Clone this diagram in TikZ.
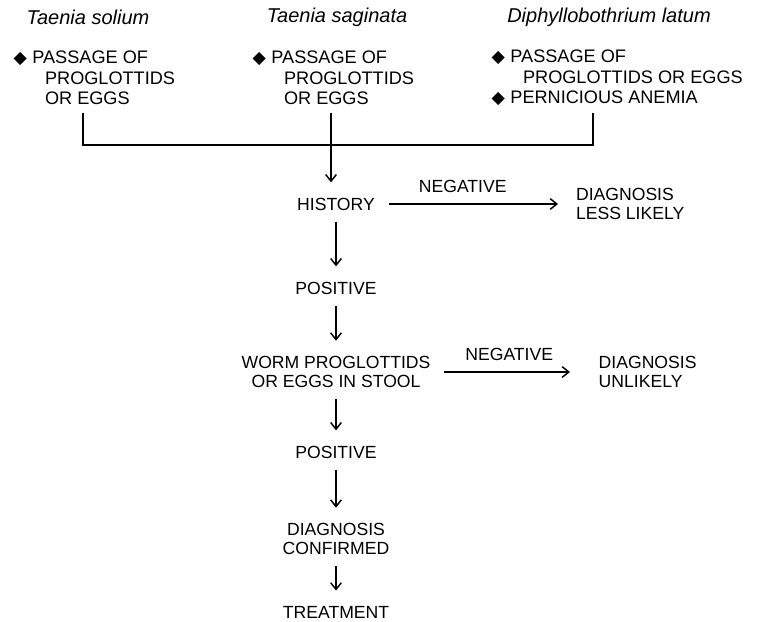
\documentclass[tikz,border=0pt]{standalone}
\usepackage{fontspec}
\setmainfont{Liberation Sans}
\newfontfamily\dingfont{DejaVu Sans}
\usetikzlibrary{arrows.meta,positioning}
\newcommand{\txtsize}{\fontsize{13.2}{14.5}\selectfont}
\newcommand{\lstsize}{\fontsize{13.6}{15.2}\selectfont}
\newcommand{\bul}{\makebox[14pt][l]{\dingfont\fontsize{13}{13}\selectfont ◆}}
\newcommand{\hang}{\hspace*{23.5pt}}
\tikzset{base/.style = {inner xsep=7pt, inner ysep=5pt, font=\txtsize, align=center},
         lst/.style = {inner sep=0pt, font=\lstsize, align=left, anchor=west},
         ttl/.style = {inner sep=0pt, font=\fontsize{15}{16}\selectfont\itshape}}

\begin{document}
\begin{tikzpicture}[x=0.75pt, y=-0.75pt, line width=1.1pt,
  flow/.style = {-{Straight Barb[length=5pt,width=8pt]}, shorten <=3pt, shorten >=6pt}]
\useasboundingbox (0,0) rectangle (766,621);
% the three worms
\node[ttl] (tsol) at (88,17) {Taenia solium};
\node[ttl] (tsag) at (337,17) {Taenia saginata};
\node[ttl] (tdip) at (609,17) {Diphyllobothrium latum};
\node[lst] (lsol) at (13,78) {\bul PASSAGE OF\\\hang PROGLOTTIDS\\\hang OR EGGS};
\node[lst] (lsag) at (252,78) {\bul PASSAGE OF\\\hang PROGLOTTIDS\\\hang OR EGGS};
\node[lst] (ldip) at (491,78) {\bul PASSAGE OF\\\hang PROGLOTTIDS OR EGGS\\\bul PERNICIOUS ANEMIA};
% bracket
\coordinate (dsol) at (83,113);
\coordinate (dsag) at (331,113);
\coordinate (ddip) at (593,113);
\coordinate (jdip) at (593,145);
% flow
\node[base] (hist) at (336,204) {HISTORY};
\node[base] (pos1) at (336,288) {POSITIVE};
\node[base] (worm) at (336,372) {WORM PROGLOTTIDS\\OR EGGS IN STOOL};
\node[base] (pos2) at (336,452) {POSITIVE};
\node[base] (conf) at (336,539) {DIAGNOSIS\\CONFIRMED};
\node[base] (treat) at (336,612) {TREATMENT};
\node[base, anchor=west, align=left] (less) at (566,204) {DIAGNOSIS\\LESS LIKELY};
\node[base, anchor=west, align=left, inner xsep=15pt] (unl) at (578,372) {DIAGNOSIS\\UNLIKELY};
\draw (dsol) |- (jdip) -- (ddip);
\draw[flow, shorten <=0pt] (dsag) -- (dsag |- hist.north);
\draw[flow] (hist) -- node[base, above=3pt, pos=0.43] (neg1) {NEGATIVE} (hist.east -| less.west);
\draw[flow] (worm) -- node[base, above=3pt, pos=0.5] (neg2) {NEGATIVE} (worm.east -| unl.west);
\draw[flow] (hist) -- (pos1);
\draw[flow] (pos1) -- (worm);
\draw[flow] (worm) -- (pos2);
\draw[flow] (pos2) -- (conf);
\draw[flow] (conf) -- (treat);
\end{tikzpicture}
\end{document}
